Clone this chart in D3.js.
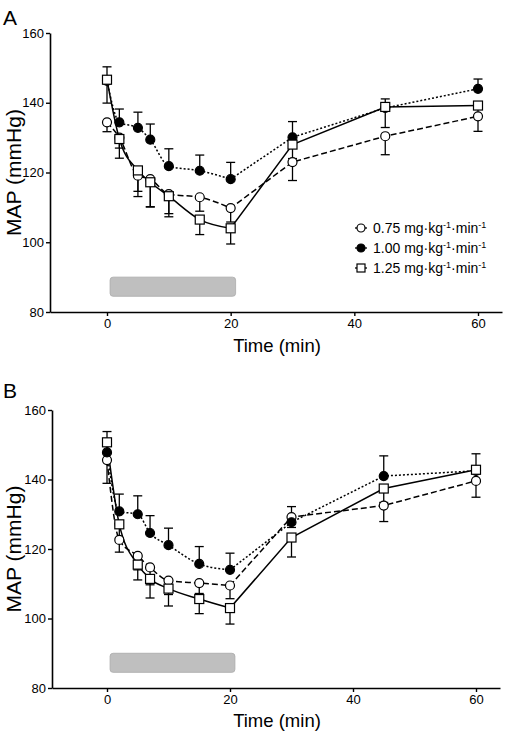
<!DOCTYPE html>
<html><head><meta charset="utf-8">
<script src="https://cdn.jsdelivr.net/npm/d3@7"></script>
<style>body{margin:0;background:#fff}svg{display:block;font-family:"Liberation Sans",Arial,sans-serif}</style>
</head><body>
<svg id="c" width="505" height="733"></svg>
<script>
const times = [0, 2, 5, 7, 10, 15, 20, 30, 45, 60];
const seriesNames = ["0.75", "1.00", "1.25"];
const yTicks = [80, 100, 120, 140, 160];
const xTicks = [0, 20, 40, 60];
const infusion = [0.5, 20.8];
const infusionY = [84.5, 90];

// Panel A
const A_075 = [134.4, 130.0, 119.1, 118.1, 113.8, 112.9, 109.8, 123.0, 130.4, 136.1];
const A_075_err = [2.7, 3, 6, 8, 6.5, 4, 4, 5.3, 5.3, 4.3];
const A_100 = [146.3, 134.4, 132.8, 129.4, 121.8, 120.5, 118.1, 130.1, 138.5, 144.0];
const A_100_err = [4, 3.8, 4.5, 4.5, 5, 4.5, 4.8, 4.5, 2.6, 2.8];
const A_125 = [146.6, 129.6, 120.6, 117.2, 113.2, 106.5, 104.0, 128.0, 138.8, 139.2];
const A_125_err = [6.7, 5.5, 6, 7, 5, 4.3, 4.5, 4, 5.9, 3];

// Panel B
const B_075 = [145.6, 122.6, 118.0, 114.7, 110.9, 110.2, 109.5, 129.2, 132.5, 139.6];
const B_075_err = [6.7, 3.5, 4, 5, 4, 3, 3.8, 3, 4.6, 4.7];
const B_100 = [147.8, 130.8, 130.0, 124.6, 121.1, 115.7, 114.0, 127.7, 141.0, 142.5];
const B_100_err = [6, 5, 5.3, 5, 4.9, 5, 4.8, 4.5, 5.8, 4.9];
const B_125 = [150.7, 127.1, 115.5, 111.4, 108.6, 105.6, 103.0, 123.3, 137.4, 142.8];
const B_125_err = [3, 4, 4.4, 5.5, 5, 4.2, 4.6, 5.6, 4, 3];

const styles = [
  {sym: "circle", fill: "#fff", dash: "6,3", errDir: 1},
  {sym: "circle", fill: "#000", dash: "2,2", errDir: -1},
  {sym: "square", fill: "#fff", dash: null, errDir: 1}
];

const panels = [
  {label: "A", series: [[A_075, A_075_err], [A_100, A_100_err], [A_125, A_125_err]],
   axX: [50, 502], x0: 107, x60: 478, yTop: 33, yBot: 312, legend: true, labelY: 25, timeY: 352},
  {label: "B", series: [[B_075, B_075_err], [B_100, B_100_err], [B_125, B_125_err]],
   axX: [52, 500], x0: 107, x60: 476, yTop: 410, yBot: 688, legend: false, labelY: 398, timeY: 727}
];

const svg = d3.select("#c");

panels.forEach(p => {
  const g = svg.append("g");
  const x0 = d3.scaleLinear().domain([0, 60]).range([p.x0, p.x60]);
  const x = d3.scaleLinear().domain([x0.invert(p.axX[0]), x0.invert(p.axX[1])]).range(p.axX);
  const y = d3.scaleLinear().domain([80, 160]).range([p.yBot, p.yTop]);

  g.append("text").attr("x", 3).attr("y", p.labelY).attr("font-size", 21).text(p.label);

  const ya = g.append("g").attr("transform", `translate(${p.axX[0]},0)`)
    .call(d3.axisLeft(y).tickValues(yTicks).tickSize(4).tickSizeOuter(0).tickPadding(2));
  const xa = g.append("g").attr("transform", `translate(0,${p.yBot})`)
    .call(d3.axisBottom(x).tickValues(xTicks).tickSize(4).tickSizeOuter(0).tickPadding(3));
  [ya, xa].forEach(a => {
    a.select(".domain").attr("stroke-width", 1.6);
    a.selectAll(".tick line").attr("stroke-width", 1.4);
    a.selectAll("text").attr("font-size", 13).attr("font-family", "Liberation Sans, Arial, sans-serif").attr("fill", "#000");
  });

  g.append("text").attr("transform", `translate(21,${(p.yTop + p.yBot) / 2}) rotate(-90)`)
    .attr("text-anchor", "middle").attr("font-size", 21).text("MAP (mmHg)");
  g.append("text").attr("x", 277).attr("y", p.timeY).attr("text-anchor", "middle")
    .attr("font-size", 18.5).text("Time (min)");

  g.append("rect").attr("x", x(infusion[0])).attr("y", y(infusionY[1]))
    .attr("width", x(infusion[1]) - x(infusion[0])).attr("height", y(infusionY[0]) - y(infusionY[1]))
    .attr("rx", 3).attr("fill", "#bfbfbf").attr("stroke", "#aaa").attr("stroke-width", 0.8);

  // smooth during infusion (0–20 min), straight segments afterwards
  const smooth = d3.line().x(d => x(d[0])).y(d => y(d[1])).curve(d3.curveMonotoneX);
  const straight = d3.line().x(d => x(d[0])).y(d => y(d[1]));

  p.series.forEach(([vals], si) => {
    const st = styles[si];
    const pts = vals.map((v, i) => [times[i], v]);
    const early = pts.filter(d => d[0] <= 20);
    const late = pts.filter(d => d[0] >= 20);
    const d = smooth(early) + straight(late).replace(/^M/, "L");
    g.append("path").attr("d", d).attr("fill", "none").attr("stroke", "#000")
      .attr("stroke-width", 1.5).attr("stroke-dasharray", st.dash);
  });
  p.series.forEach(([vals, errs], si) => {
    const st = styles[si];
    vals.forEach((v, i) => {
      const xv = x(times[i]);
      const ye = y(v - st.errDir * errs[i]);
      g.append("line").attr("x1", xv).attr("x2", xv).attr("y1", y(v)).attr("y2", ye)
        .attr("stroke", "#000").attr("stroke-width", 1.3);
      g.append("line").attr("x1", xv - 4.5).attr("x2", xv + 4.5).attr("y1", ye).attr("y2", ye)
        .attr("stroke", "#000").attr("stroke-width", 1.3);
    });
  });
  p.series.forEach(([vals], si) => {
    const st = styles[si];
    vals.forEach((v, i) => drawSym(g, st, x(times[i]), y(v)));
  });

  if (p.legend) {
    const rows = [228, 248, 268];
    seriesNames.forEach((n, si) => {
      const st = styles[si];
      const ly = rows[si];
      g.append("line").attr("x1", 355).attr("x2", 367).attr("y1", ly).attr("y2", ly)
        .attr("stroke", "#000").attr("stroke-width", 1.3);
      drawSym(g, st, 361, ly, 4);
      const t = g.append("text").attr("x", 373).attr("y", ly + 5).attr("font-size", 14);
      t.append("tspan").text(n + " mg·kg");
      t.append("tspan").attr("font-size", 9).attr("dy", -5).text("-1");
      t.append("tspan").attr("dy", 5).text("·min");
      t.append("tspan").attr("font-size", 9).attr("dy", -5).text("-1");
    });
  }
});

function drawSym(g, st, cx, cy, r = 4.5) {
  if (st.sym === "circle") {
    g.append("circle").attr("cx", cx).attr("cy", cy).attr("r", r)
      .attr("fill", st.fill).attr("stroke", "#000").attr("stroke-width", 1.2);
  } else {
    g.append("rect").attr("x", cx - r).attr("y", cy - r).attr("width", 2 * r).attr("height", 2 * r)
      .attr("fill", st.fill).attr("stroke", "#000").attr("stroke-width", 1.2);
  }
}
</script>
</body></html>
